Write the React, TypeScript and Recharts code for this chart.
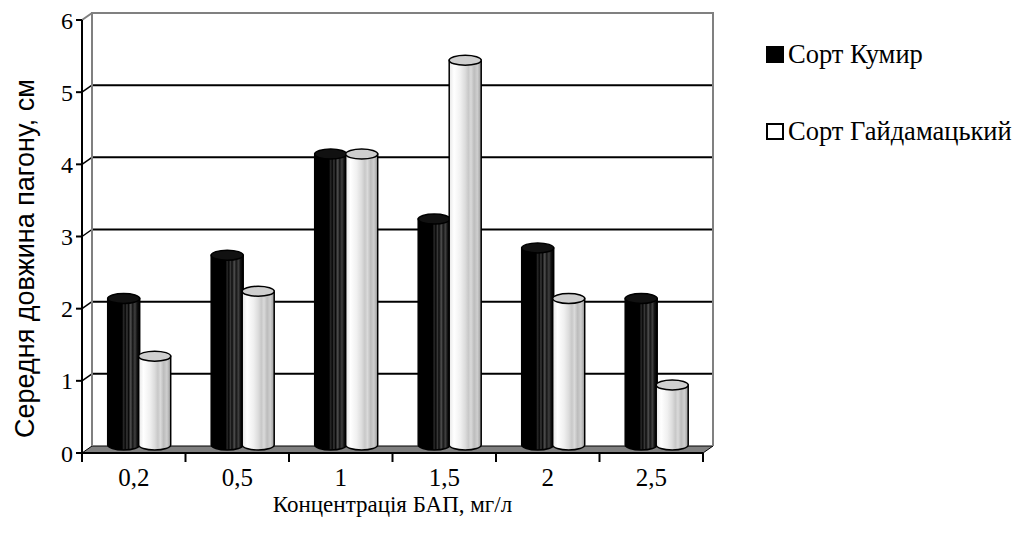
import React from 'react';
import { BarChart, Bar, XAxis, YAxis, CartesianGrid, ReferenceArea } from 'recharts';

// Concentration of BAP, mg/l
const categories = ['0,2', '0,5', '1', '1,5', '2', '2,5'];
// Mean shoot length, cm
const kumyr = [2.1, 2.7, 4.1, 3.2, 2.8, 2.1];
const haidamatskyi = [1.3, 2.2, 4.1, 5.4, 2.1, 0.9];
const seriesNames = ['Сорт Кумир', 'Сорт Гайдамацький'];
const yTicks = [0, 1, 2, 3, 4, 5, 6];

const data = categories.map((cat, i) => ({
  cat,
  kumyr: kumyr[i],
  haidamatskyi: haidamatskyi[i],
}));

// pseudo-3D depth of the back wall
const DX = 10;
const DY = 7;
const SERIF = '"Liberation Serif", "Times New Roman", serif';

/** back wall + floor + category boundary ticks, drawn from the plot box */
function Wall(props: any) {
  const { x, y, width, height } = props;
  if (x == null || width == null) return null;
  const bottom = y + height;
  const right = x + width;
  const step = width / categories.length;
  return (
    <g>
      <polygon
        points={`${x},${bottom} ${right},${bottom} ${right + DX},${bottom - DY} ${x + DX},${bottom - DY}`}
        fill="#808080"
        stroke="#000"
        strokeWidth={1}
      />
      <polyline
        points={`${x + DX},${bottom - DY} ${x + DX},${y - DY} ${right + DX},${y - DY} ${right + DX},${bottom - DY}`}
        fill="none"
        stroke="#808080"
        strokeWidth={2}
      />
      <line x1={x} y1={bottom} x2={right} y2={bottom} stroke="#000" strokeWidth={2} />
      {[...categories, ''].map((c, i) => (
        <line key={i} x1={x + step * i} y1={bottom} x2={x + step * i} y2={bottom + 9} stroke="#000" strokeWidth={2} />
      ))}
    </g>
  );
}

/** gridlines sit on the back wall, with a short connector from the axis tick */
function GridLine(props: any) {
  const { x1, y1, x2, y: top, height } = props;
  const inner = y1 > top + 1 && y1 < top + height - 1;
  return (
    <g key={props.key}>
      {y1 < top + height - 1 && (
        <line x1={x1} y1={y1} x2={x1 + DX} y2={y1 - DY} stroke={inner ? '#000' : '#808080'} strokeWidth={inner ? 1.5 : 2} />
      )}
      {inner && <line x1={x1 + DX} y1={y1 - DY} x2={x2 + DX} y2={y1 - DY} stroke="#000" strokeWidth={2} />}
    </g>
  );
}

function makeCylinder(body: string, top: string) {
  return function Cylinder(props: any) {
    const { x, y, width, height } = props;
    if (height == null || width == null) return null;
    const rx = width / 2;
    const ry = 5;
    const left = x + DX / 2;
    const topY = y - 3;
    const baseY = y + height - 8;
    return (
      <g>
        <path
          d={`M${left},${topY} L${left},${baseY} A${rx},${ry} 0 0 0 ${left + width},${baseY} L${left + width},${topY} Z`}
          fill={body}
          stroke="#000"
          strokeWidth={1.5}
        />
        <ellipse cx={left + rx} cy={topY} rx={rx} ry={ry} fill={top} stroke="#000" strokeWidth={1.5} />
      </g>
    );
  };
}

const DarkCylinder = makeCylinder('url(#darkBody)', '#111');
const LightCylinder = makeCylinder('url(#lightBody)', '#cfcfcf');

export default function App() {
  return (
    <div style={{ position: 'absolute', left: 0, top: 0, width: 1022, height: 549, background: '#fff' }}>
      <BarChart
        width={1022}
        height={549}
        data={data}
        margin={{ top: 20, right: 319, bottom: 0, left: 0 }}
        barCategoryGap="20%"
        barGap={-1}
      >
        <defs>
          <linearGradient id="darkBody" x1="0" y1="0" x2="1" y2="0">
            <stop offset="0" stopColor="#000" />
            <stop offset="0.45" stopColor="#000" />
            <stop offset="0.5" stopColor="#2a2a2a" />
            <stop offset="0.55" stopColor="#050505" />
            <stop offset="0.6" stopColor="#3a3a3a" />
            <stop offset="0.65" stopColor="#0a0a0a" />
            <stop offset="0.72" stopColor="#505050" />
            <stop offset="0.78" stopColor="#151515" />
            <stop offset="0.85" stopColor="#404040" />
            <stop offset="0.92" stopColor="#101010" />
            <stop offset="1" stopColor="#000" />
          </linearGradient>
          <linearGradient id="lightBody" x1="0" y1="0" x2="1" y2="0">
            <stop offset="0" stopColor="#e6e6e6" />
            <stop offset="0.15" stopColor="#ffffff" />
            <stop offset="0.35" stopColor="#f0f0f0" />
            <stop offset="0.5" stopColor="#dcdcdc" />
            <stop offset="0.6" stopColor="#c8c8c8" />
            <stop offset="0.68" stopColor="#dadada" />
            <stop offset="0.78" stopColor="#bcbcbc" />
            <stop offset="0.88" stopColor="#cfcfcf" />
            <stop offset="1" stopColor="#9a9a9a" />
          </linearGradient>
        </defs>

        <CartesianGrid vertical={false} horizontal={GridLine as any} stroke="#000" />

        <XAxis
          dataKey="cat"
          height={96}
          axisLine={false}
          tickLine={false}
          tickSize={0}
          tickMargin={15}
          tick={{ fill: '#000', fontSize: 25, fontFamily: SERIF }}
          label={{
            value: 'Концентрація БАП, мг/л',
            position: 'insideBottom',
            offset: 37,
            style: { fill: '#000', fontSize: 23, fontFamily: SERIF },
          }}
        />
        <YAxis
          domain={[0, 6]}
          ticks={yTicks}
          width={82}
          axisLine={{ stroke: '#000', strokeWidth: 2 }}
          tickLine={{ stroke: '#000', strokeWidth: 2 }}
          tickSize={6}
          tickMargin={3}
          tick={{ fill: '#000', fontSize: 24, fontFamily: SERIF }}
          label={{
            value: 'Середня довжина пагону, см',
            angle: -90,
            position: 'insideLeft',
            offset: 0,
            dx: 24,
            dy: 22,
            style: { fill: '#000', fontSize: 27, fontFamily: '"Liberation Sans", Arial, sans-serif', textAnchor: 'middle' },
          }}
        />

        <ReferenceArea ifOverflow="visible" shape={Wall as any} />

        <Bar dataKey="kumyr" name={seriesNames[0]} fill="#000" shape={DarkCylinder as any} isAnimationActive={false} />
        <Bar dataKey="haidamatskyi" name={seriesNames[1]} fill="#ccc" shape={LightCylinder as any} isAnimationActive={false} />
      </BarChart>

      {/* legend on the right, like the Excel original */}
      <div style={{ position: 'absolute', left: 766, top: 38, fontFamily: SERIF, fontSize: 26.5, color: '#000' }}>
        {seriesNames.map((name, i) => (
          <div key={name} style={{ display: 'flex', alignItems: 'center', height: 33, marginBottom: i === 0 ? 44 : 0 }}>
            <span
              style={{
                display: 'inline-block',
                boxSizing: 'border-box',
                width: 18,
                height: 17,
                background: i === 0 ? '#000' : '#fff',
                border: i === 0 ? 'none' : '2px solid #000',
                marginRight: 4,
              }}
            />
            <span>{name}</span>
          </div>
        ))}
      </div>
    </div>
  );
}
